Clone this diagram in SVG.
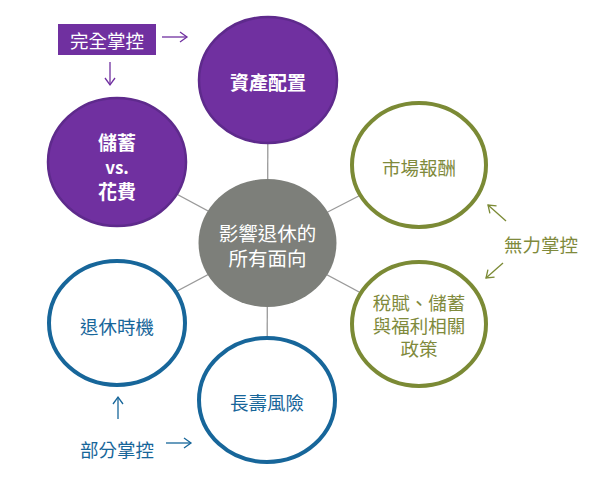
<svg xmlns="http://www.w3.org/2000/svg" width="594" height="477" viewBox="0 0 594 477">
<style>
text{font-family:"Noto Sans CJK TC","Noto Sans CJK SC",sans-serif;font-size:18.5px;text-anchor:middle;dominant-baseline:central}
.conn line{stroke:#9a9a9a;stroke-width:1.3}
.purple ellipse{fill:#7030a0;stroke:#5e2a8c;stroke-width:2.5}
.purple text{fill:#fff;font-weight:bold;font-size:19px}
.green ellipse{fill:#fff;stroke:#7b8a35;stroke-width:4}
.green text{fill:#7f8a3c}
.blue ellipse{fill:#fff;stroke:#17669a;stroke-width:4}
.blue text{fill:#17669a}
.center ellipse{fill:#7d7f7a}
.center text{fill:#fff;font-size:19.5px}
.ap{stroke:#7030a0;stroke-width:1.3;fill:none}
.ag{stroke:#7b8a35;stroke-width:1.3;fill:none}
.ab{stroke:#17669a;stroke-width:1.3;fill:none}
</style>
<defs>
<marker id="mp" markerWidth="12" markerHeight="12" refX="10" refY="6" orient="auto" markerUnits="userSpaceOnUse"><path d="M3,1 L10,6 L3,11" fill="none" stroke="#7030a0" stroke-width="1.3"/></marker>
<marker id="mg" markerWidth="12" markerHeight="12" refX="10" refY="6" orient="auto" markerUnits="userSpaceOnUse"><path d="M3,1 L10,6 L3,11" fill="none" stroke="#7b8a35" stroke-width="1.3"/></marker>
<marker id="mb" markerWidth="12" markerHeight="12" refX="10" refY="6" orient="auto" markerUnits="userSpaceOnUse"><path d="M3,1 L10,6 L3,11" fill="none" stroke="#17669a" stroke-width="1.3"/></marker>
</defs>
<rect width="594" height="477" fill="#fff"/>
<g id="connectors" class="conn">
<line x1="267.5" y1="243" x2="268" y2="80"/>
<line x1="267.5" y1="243" x2="117" y2="162"/>
<line x1="267.5" y1="243" x2="419" y2="165"/>
<line x1="267.5" y1="243" x2="419" y2="324"/>
<line x1="267.5" y1="243" x2="117" y2="323"/>
<line x1="267.5" y1="243" x2="267" y2="400"/>
</g>
<g id="center" class="center">
<ellipse cx="267.5" cy="243" rx="69" ry="64"/>
<text x="267.5" y="232">影響退休的<tspan x="267.5" y="257">所有面向</tspan></text>
</g>
<g id="asset" class="purple">
<ellipse cx="268" cy="80" rx="69" ry="63"/>
<text x="268" y="81">資產配置</text>
</g>
<g id="saving" class="purple">
<ellipse cx="117" cy="162" rx="69" ry="64"/>
<text x="117" y="141">儲蓄<tspan x="117" y="166" font-size="17">vs.</tspan><tspan x="117" y="190">花費</tspan></text>
</g>
<g id="market" class="green">
<ellipse cx="419" cy="165" rx="67" ry="62"/>
<text x="419" y="167">市場報酬</text>
</g>
<g id="policy" class="green">
<ellipse cx="419" cy="324" rx="67" ry="62"/>
<text x="419" y="302">稅賦、儲蓄<tspan x="419" y="325">與福利相關</tspan><tspan x="419" y="348">政策</tspan></text>
</g>
<g id="timing" class="blue">
<ellipse cx="117" cy="323" rx="68" ry="62"/>
<text x="117" y="326">退休時機</text>
</g>
<g id="longevity" class="blue">
<ellipse cx="267" cy="400" rx="68" ry="62"/>
<text x="267" y="402">長壽風險</text>
</g>
<g id="full-control">
<rect x="58" y="24" width="98" height="31" fill="#7030a0"/>
<text x="107" y="40" fill="#fff">完全掌控</text>
<line class="ap" x1="162" y1="37" x2="187" y2="37" marker-end="url(#mp)"/>
<line class="ap" x1="110" y1="62" x2="110" y2="85" marker-end="url(#mp)"/>
</g>
<g id="no-control">
<text x="541" y="244" fill="#7f8a3c">無力掌控</text>
<line class="ag" x1="506" y1="221" x2="488" y2="205" marker-end="url(#mg)"/>
<line class="ag" x1="503" y1="263" x2="486" y2="278" marker-end="url(#mg)"/>
</g>
<g id="partial-control">
<text x="117" y="449" fill="#17669a">部分掌控</text>
<line class="ab" x1="118" y1="419" x2="118" y2="397" marker-end="url(#mb)"/>
<line class="ab" x1="166" y1="443" x2="191" y2="443" marker-end="url(#mb)"/>
</g>
</svg>
